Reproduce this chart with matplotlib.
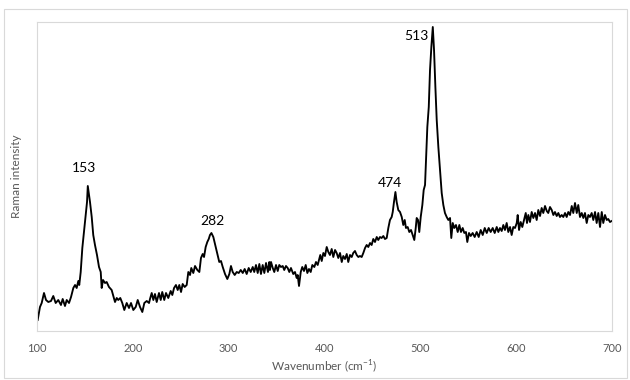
import matplotlib
matplotlib.use("Agg")
import matplotlib.pyplot as plt
from matplotlib.patches import Rectangle

plt.rcParams["font.family"] = ["Lato", "DejaVu Sans"]
plt.rcParams["mathtext.fontset"] = "custom"
plt.rcParams["mathtext.rm"] = "Lato"

# Raman spectrum (wavenumber in cm^-1, intensity in arbitrary units)
wavenumber = [
    100.7, 103.1, 104.9, 107.3, 109.4, 111.8, 114.6, 117.0, 119.5, 122.2,
    125.0, 126.8, 129.2, 131.0, 133.4, 135.5, 137.9, 139.7, 141.4, 143.1,
    144.1, 145.6, 147.3, 149.4, 150.8, 152.2, 153.0, 155.3, 157.1, 158.7,
    160.5, 162.6, 164.7, 166.5, 167.5, 168.9, 171.0, 172.7, 175.1, 177.9,
    180.0, 181.4, 183.2, 184.8, 186.9, 189.0, 191.1, 193.6, 196.0, 198.1,
    200.5, 203.0, 205.1, 207.5, 209.9, 212.0, 214.5, 216.9,
    217.9, 219.7, 221.4, 223.1, 224.9, 227.3, 229.1, 230.7, 232.8, 234.6,
    237.0, 239.5, 241.2, 243.0, 245.0, 246.8, 248.5, 250.3, 252.0, 254.1,
    256.2, 257.9, 259.7, 261.0, 263.1, 264.9, 267.3, 269.4, 271.1, 272.9,
    274.3, 276.0, 277.7, 279.2, 280.5, 282.0, 284.0, 286.0, 288.1, 290.2,
    292.0, 293.8, 296.2, 298.6, 300.7, 302.4, 304.2, 306.3, 308.4, 310.5,
    312.6, 314.7, 316.7, 318.8, 320.9, 323.0, 325.1, 326.7, 328.5, 330.3,
    332.0, 333.7, 335.5, 337.2, 339.0, 341.0, 342.4,
    343.1, 344.2, 346.0, 347.6, 349.4, 351.2, 352.8, 354.6, 356.4, 358.0,
    359.8, 361.6, 363.3, 365.0, 367.4, 369.2, 371.0, 372.0, 373.4, 375.2,
    376.8, 378.6, 380.4, 382.1, 383.8, 385.6, 387.3, 389.4, 391.1, 392.9,
    394.3, 395.6, 397.1, 398.8, 400.5, 402.3, 404.0, 405.7, 407.5, 409.2,
    411.0, 412.7, 414.4, 416.2, 418.0, 419.6, 421.4, 423.2, 424.8, 426.6,
    428.4, 430.0, 431.8, 433.6, 435.3, 437.0, 438.8, 440.5, 442.3, 444.0,
    445.7, 447.5, 449.2, 450.9, 452.7, 454.5, 456.1,
    457.9, 459.6, 461.4, 463.1, 464.9, 466.6, 468.3, 470.1, 471.2, 472.5,
    474.0, 475.3, 477.0, 478.8, 480.6, 482.2, 483.7, 485.0, 486.8, 488.5,
    490.3, 492.0, 493.7, 495.2, 496.2, 497.6, 498.9, 500.4, 502.1, 503.5,
    504.9, 505.9, 507.3, 508.8, 510.1, 511.5, 513.0, 514.3, 515.7, 517.1,
    518.8, 520.5, 522.3, 524.0, 525.7, 527.5, 529.2, 531.0, 532.3, 533.8,
    535.4, 537.2, 539.0, 540.7, 542.4, 544.2, 545.9, 547.6, 549.0, 550.8,
    552.6, 554.6, 556.7, 558.8, 560.9, 563.0, 565.1, 567.2, 569.3, 571.3,
    573.4, 575.5, 577.6,
    579.7, 581.4, 583.1, 584.9, 586.6, 588.3, 590.1, 591.8, 593.6, 595.3,
    597.0, 598.8, 600.6, 601.6, 603.0, 604.7, 606.4, 608.2, 610.0, 611.3,
    612.7, 614.4, 616.2, 617.9, 619.7, 621.4, 623.1, 624.9, 626.6, 628.3,
    630.1, 631.9, 633.5, 635.3, 637.1, 638.8, 640.5, 642.3, 644.0, 645.7,
    647.5, 649.2, 651.0, 652.7, 654.4, 656.2, 658.0, 659.6, 661.4, 663.2,
    664.8, 666.6, 668.4, 670.1, 671.8, 673.6, 675.3, 677.0, 678.8, 680.5,
    682.3, 684.0, 685.7, 687.5, 689.3, 690.9, 692.7, 694.5, 696.1, 697.9,
    699.7,
]

intensity = [
    11, 24, 28, 38, 31, 29, 30, 35, 28, 31,
    26, 32, 25, 31, 28, 34, 43, 46, 43, 50,
    46, 59, 83, 103, 116, 129, 145, 129, 114, 96,
    86, 76, 64, 59, 43, 51, 48, 49, 44, 41,
    34, 29, 33, 31, 33, 28, 21, 28, 23, 28,
    21, 24, 31, 24, 19, 28, 30, 28,
    32, 38, 31, 37, 29, 38, 31, 39, 31, 38,
    33, 40, 36, 43, 46, 41, 46, 39, 47, 44,
    46, 59, 56, 63, 58, 65, 61, 59, 73, 77,
    74, 84, 89, 92, 96, 98, 94, 86, 78, 69,
    70, 64, 57, 52, 57, 65, 59, 56, 59, 58,
    61, 58, 62, 57, 63, 59, 64, 59, 66, 58,
    67, 57, 66, 58, 68, 59, 69,
    61, 69, 63, 59, 66, 60, 66, 64, 65, 61,
    65, 63, 59, 63, 57, 59, 53, 56, 45, 59,
    64, 60, 66, 58, 62, 59, 66, 64, 69, 66,
    71, 76, 70, 78, 75, 84, 79, 76, 82, 74,
    81, 78, 73, 78, 69, 75, 72, 77, 69, 76,
    74, 78, 80, 76, 74, 75, 74, 78, 83, 86,
    84, 88, 86, 92, 89, 94, 91,
    94, 93, 95, 92, 93, 103, 111, 114, 119, 129,
    139, 129, 121, 119, 114, 106, 111, 103, 104, 99,
    101, 96, 91, 103, 113, 111, 99, 114, 126, 141,
    146, 171, 204, 224, 261, 284, 304, 281, 244, 211,
    184, 161, 138, 126, 118, 114, 111, 113, 93, 108,
    103, 106, 99, 106, 99, 103, 98, 99, 89, 98,
    95, 98, 94, 99, 94, 101, 96, 103, 98, 103,
    99, 103, 98,
    104, 99, 103, 100, 106, 101, 108, 99, 104, 96,
    104, 103, 108, 116, 101, 109, 104, 111, 118, 108,
    116, 109, 119, 113, 118, 111, 121, 115, 123, 118,
    125, 120, 118, 124, 121, 116, 119, 115, 118, 114,
    116, 114, 118, 114, 119, 116, 125, 118, 128, 118,
    126, 114, 118, 113, 118, 108, 116, 114, 118, 111,
    119, 108, 118, 104, 119, 108, 116, 111, 112, 109,
    110,
]

x_ticks = [100, 200, 300, 400, 500, 600, 700]
peak_labels = ["153", "282", "474", "513"]
peak_positions = [153.0, 282.0, 474.0, 513.0]
# text offsets (points) of each peak label relative to the peak top
label_offsets = [(-3.1, 12.7), (0.4, 8.6), (-3.6, 6.3), (-11.8, -6.8)]

W, H = 630, 380
fig = plt.figure(figsize=(W / 100, H / 100), dpi=100)
fig.patch.set_facecolor("white")

# chart-area frame
fig.patches.append(Rectangle((4 / W, 2 / H), 623 / W, 369 / H,
                             transform=fig.transFigure, fill=False,
                             edgecolor="#d9d9d9", linewidth=0.8))

left, right, top, bottom = 37, 612, 22, 331
ax = fig.add_axes([left / W, (H - bottom) / H, (right - left) / W, (bottom - top) / H])
ax.plot(wavenumber, intensity, color="black", linewidth=1.35, solid_joinstyle="round")

ax.set_xlim(100, 700)
ax.set_ylim(0, 309)
ax.set_xticks(x_ticks)
ax.set_xticklabels([str(t) for t in x_ticks])
ax.set_yticks([])
ax.tick_params(axis="x", length=0, pad=9, labelsize=8, labelcolor="#595959")
for s in ax.spines.values():
    s.set_color("#d9d9d9")
    s.set_linewidth(0.8)

ax.set_xlabel("Wavenumber (cm$^{\\mathregular{-1}}$)", fontsize=8.5, color="#595959", labelpad=3)
ax.set_ylabel("Raman intensity", fontsize=8.5, color="#595959", labelpad=11)

for lab, pos, off in zip(peak_labels, peak_positions, label_offsets):
    i = min(range(len(wavenumber)), key=lambda k: abs(wavenumber[k] - pos))
    ax.annotate(lab, xy=(wavenumber[i], intensity[i]), xytext=off,
                textcoords="offset points", ha="center", va="center",
                fontsize=10, color="black", annotation_clip=False)

fig.savefig("out.png", dpi=100, facecolor="white")
